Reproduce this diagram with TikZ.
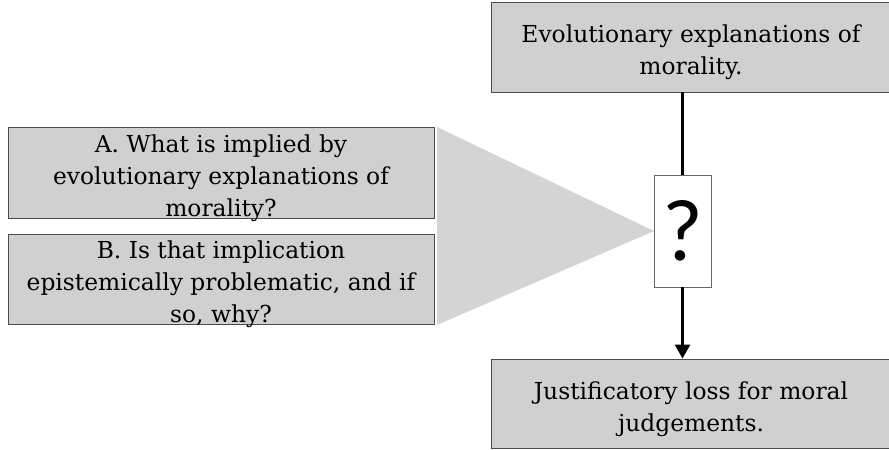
\documentclass[tikz,border=0pt]{standalone}
\usepackage{fontspec}
\usetikzlibrary{arrows.meta}
\newfontfamily\qmarkfont{Carlito}
\newfontfamily\boxfont{DejaVu Serif}
\definecolor{boxgray}{RGB}{208,208,208}
\definecolor{funnelgray}{RGB}{212,212,212}

\begin{document}
\begin{tikzpicture}[x=0.2mm, y=-0.2mm,
    textbox/.style = {draw=black!70, line width=0.5pt, fill=boxgray, inner sep=0pt},
    boxtext/.style = {align=center, inner sep=0pt, yshift=-1.1mm,
                      font=\boxfont\fontsize{13.3}{18.3}\selectfont},
    flow/.style = {line width=1.7pt},
    qbox/.style = {draw=black!60, line width=0.5pt, fill=white, inner sep=0pt,
                   minimum width=1.14cm, minimum height=2.24cm, font=\qmarkfont\fontsize{50}{50}\selectfont}]
    \useasboundingbox (0,0) rectangle (889,449);

    % funnel
    \fill[funnelgray] (437,127) -- (654,231) -- (437,325) -- cycle;

    % boxes
    \node[textbox, minimum width=8cm, minimum height=1.8cm] (expl) at (691,47) {};
    \node[boxtext] (expltext) at (expl.center) {Evolutionary explanations of\\morality.};
    \node[qbox] (q) at (682.5,231) {?};
    \node[textbox, minimum width=8cm, minimum height=1.78cm] (loss) at (691,403.5) {};
    \node[boxtext] (losstext) at (loss.center) {Justificatory loss for moral\\judgements.};
    \node[textbox, minimum width=8.52cm, minimum height=1.82cm] (qa) at (221,172.5) {};
    \node[boxtext] (qatext) at (qa.center) {A. What is implied by\\evolutionary explanations of\\morality?};
    \node[textbox, minimum width=8.52cm, minimum height=1.8cm] (qb) at (221,279) {};
    \node[boxtext] (qbtext) at (qb.center) {B. Is that implication\\epistemically problematic, and if\\so, why?};

    % arrows
    \draw[flow] (expl.south -| q.north) -- (q.north);
    \draw[flow, -{Triangle[length=8pt, width=8.5pt]}] (q.south) -- (q.south |- loss.north);
\end{tikzpicture}
\end{document}
